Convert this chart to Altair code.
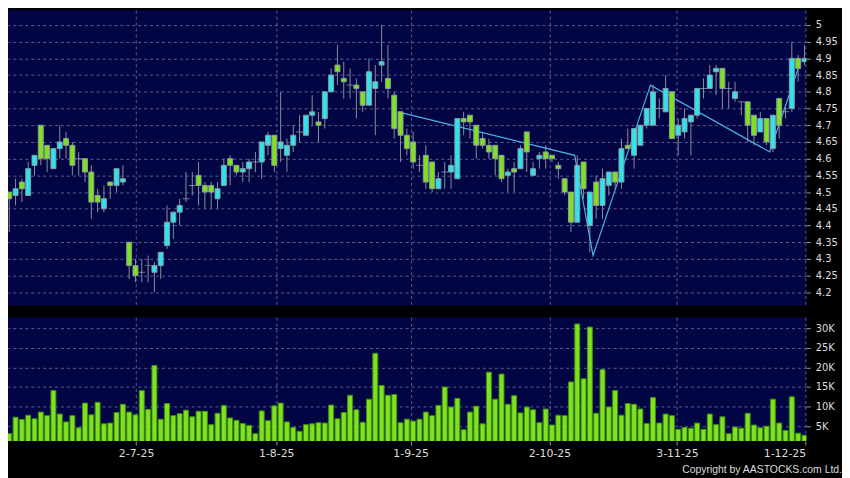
import altair as alt
import pandas as pd

# ---- data (candle index 0..126) ----
opens = [4.50, 4.49, 4.53, 4.49, 4.58, 4.70, 4.64, 4.57, 4.63, 4.66,
         4.64, 4.60, 4.60, 4.56, 4.49, 4.45, 4.53, 4.52, 4.53, 4.35,
         4.28, 4.26, 4.28, 4.26, 4.28, 4.34, 4.41, 4.44, 4.48, 4.52,
         4.55, 4.52, 4.52, 4.48, 4.52, 4.60, 4.58, 4.56, 4.57, 4.59,
         4.59, 4.64, 4.67, 4.63, 4.61, 4.64, 4.68, 4.67, 4.73, 4.71,
         4.72, 4.80, 4.88, 4.84, 4.82, 4.82, 4.80, 4.76, 4.81, 4.88,
         4.84, 4.79, 4.74, 4.67, 4.65, 4.58, 4.61, 4.59, 4.51, 4.56,
         4.56, 4.54, 4.72, 4.73, 4.70, 4.66, 4.64, 4.64, 4.61, 4.55,
         4.57, 4.57, 4.68, 4.55, 4.60, 4.62, 4.61, 4.58, 4.54, 4.50,
         4.41, 4.59, 4.40, 4.53, 4.46, 4.52, 4.56, 4.53, 4.64, 4.61,
         4.64, 4.70, 4.70, 4.75, 4.74, 4.80, 4.67, 4.68, 4.71, 4.73,
         4.81, 4.81, 4.86, 4.87, 4.81, 4.78, 4.77, 4.77, 4.73, 4.68,
         4.72, 4.63, 4.78, 4.74, 4.75, 4.90, 4.89]
highs = [4.50, 4.54, 4.54, 4.59, 4.61, 4.70, 4.64, 4.63, 4.70, 4.68,
         4.65, 4.62, 4.60, 4.58, 4.51, 4.52, 4.53, 4.57, 4.58, 4.35,
         4.30, 4.30, 4.31, 4.29, 4.32, 4.46, 4.44, 4.48, 4.56, 4.56,
         4.59, 4.53, 4.53, 4.53, 4.60, 4.61, 4.58, 4.59, 4.60, 4.62,
         4.65, 4.68, 4.67, 4.80, 4.66, 4.70, 4.73, 4.73, 4.79, 4.74,
         4.80, 4.87, 4.94, 4.89, 4.87, 4.84, 4.80, 4.90, 4.88, 5.00,
         4.94, 4.80, 4.74, 4.69, 4.68, 4.61, 4.64, 4.59, 4.56, 4.59,
         4.61, 4.72, 4.74, 4.73, 4.70, 4.68, 4.66, 4.64, 4.61, 4.57,
         4.59, 4.64, 4.68, 4.59, 4.62, 4.64, 4.61, 4.59, 4.54, 4.50,
         4.61, 4.59, 4.50, 4.55, 4.57, 4.56, 4.56, 4.66, 4.69, 4.69,
         4.70, 4.75, 4.82, 4.78, 4.85, 4.80, 4.72, 4.75, 4.73, 4.81,
         4.84, 4.88, 4.88, 4.87, 4.83, 4.83, 4.77, 4.77, 4.73, 4.74,
         4.72, 4.73, 4.78, 4.76, 4.95, 4.91, 4.94]
lows = [4.38, 4.46, 4.47, 4.49, 4.55, 4.58, 4.56, 4.57, 4.60, 4.60,
        4.55, 4.55, 4.53, 4.42, 4.44, 4.44, 4.48, 4.50, 4.52, 4.24,
        4.23, 4.23, 4.23, 4.20, 4.24, 4.33, 4.36, 4.40, 4.47, 4.49,
        4.46, 4.45, 4.45, 4.45, 4.52, 4.52, 4.55, 4.53, 4.53, 4.56,
        4.54, 4.61, 4.56, 4.59, 4.56, 4.62, 4.65, 4.67, 4.70, 4.65,
        4.69, 4.80, 4.82, 4.78, 4.78, 4.72, 4.74, 4.76, 4.67, 4.83,
        4.78, 4.66, 4.59, 4.61, 4.57, 4.56, 4.51, 4.50, 4.51, 4.51,
        4.51, 4.54, 4.67, 4.66, 4.60, 4.63, 4.60, 4.55, 4.53, 4.50,
        4.50, 4.57, 4.56, 4.55, 4.57, 4.57, 4.59, 4.54, 4.49, 4.38,
        4.41, 4.48, 4.32, 4.42, 4.42, 4.49, 4.51, 4.51, 4.63, 4.57,
        4.64, 4.69, 4.70, 4.72, 4.74, 4.66, 4.61, 4.66, 4.61, 4.72,
        4.78, 4.81, 4.79, 4.75, 4.75, 4.77, 4.73, 4.65, 4.64, 4.68,
        4.64, 4.62, 4.66, 4.72, 4.74, 4.83, 4.88]
closes = [4.48, 4.51, 4.51, 4.57, 4.61, 4.60, 4.60, 4.63, 4.65, 4.64,
          4.58, 4.60, 4.56, 4.47, 4.47, 4.48, 4.52, 4.57, 4.54, 4.28,
          4.25, 4.26, 4.28, 4.28, 4.32, 4.41, 4.44, 4.46, 4.48, 4.52,
          4.52, 4.50, 4.50, 4.51, 4.58, 4.58, 4.56, 4.57, 4.59, 4.59,
          4.65, 4.67, 4.58, 4.65, 4.64, 4.67, 4.68, 4.73, 4.74, 4.70,
          4.80, 4.85, 4.86, 4.83, 4.82, 4.81, 4.76, 4.86, 4.83, 4.89,
          4.81, 4.69, 4.67, 4.63, 4.59, 4.58, 4.53, 4.51, 4.54, 4.56,
          4.58, 4.72, 4.71, 4.71, 4.64, 4.64, 4.62, 4.60, 4.54, 4.56,
          4.56, 4.63, 4.62, 4.57, 4.61, 4.60, 4.60, 4.57, 4.50, 4.41,
          4.58, 4.51, 4.50, 4.46, 4.54, 4.56, 4.53, 4.63, 4.63, 4.69,
          4.70, 4.75, 4.80, 4.75, 4.81, 4.66, 4.70, 4.72, 4.73, 4.81,
          4.81, 4.85, 4.87, 4.81, 4.81, 4.80, 4.77, 4.70, 4.67, 4.72,
          4.65, 4.73, 4.70, 4.74, 4.90, 4.87, 4.90]
volumes_k = [3.1, 7.3, 6.7, 7.8, 6.9, 8.6, 7.7, 14.1, 8.1, 6.1,
             7.7, 4.6, 10.9, 7.9, 11.1, 5.6, 5.8, 8.5, 10.6, 8.6,
             7.9, 14.1, 9.3, 20.5, 6.8, 10.8, 7.7, 8.2, 9.1, 7.4,
             8.8, 8.8, 5.4, 8.3, 10.3, 7.1, 6.5, 5.7, 5.2, 3.1,
             8.9, 6.4, 10.2, 10.9, 6.1, 4.7, 3.7, 5.4, 5.6, 5.9,
             5.8, 10.4, 6.9, 8.5, 12.9, 9.2, 6.0, 11.9, 23.6, 15.4,
             12.9, 13.1, 5.9, 6.8, 6.3, 6.8, 8.6, 7.7, 10.3, 15.0,
             9.9, 12.1, 4.1, 8.6, 10.1, 5.6, 18.8, 11.9, 18.3, 10.6,
             12.8, 8.4, 9.9, 9.2, 5.9, 9.4, 5.3, 7.8, 7.7, 16.3,
             31.1, 17.1, 30.3, 8.3, 19.5, 9.9, 14.1, 7.8, 10.8, 10.6,
             9.4, 5.7, 12.3, 5.8, 8.1, 7.7, 4.2, 4.7, 4.5, 5.8,
             4.2, 8.1, 5.4, 7.4, 3.1, 4.8, 4.5, 8.3, 5.3, 4.6,
             5.0, 11.9, 5.8, 3.9, 12.5, 3.2, 2.7]

tick_idx = [20.1, 42.3, 63.6, 85.6, 105.8, 126.2]
tick_labels = ["2-7-25", "1-8-25", "1-9-25", "2-10-25", "3-11-25", "1-12-25"]
price_ticks = [4.2, 4.25, 4.3, 4.35, 4.4, 4.45, 4.5, 4.55, 4.6, 4.65,
               4.7, 4.75, 4.8, 4.85, 4.9, 4.95, 5.0]
vol_ticks = [5, 10, 15, 20, 25, 30]

zz_idx = [61.6, 89.6, 92.5, 101.6, 120.5, 125.2]
zz_price = [4.74, 4.61, 4.31, 4.82, 4.62, 4.88]

# ---- styling ----
CYAN = "#2fe3ee"
GREEN = "#7fe11f"
NAVY = "#020543"
GRID = "#5e5e90"
TEXT = "#dcdcdc"
WICK = "#8c8c9c"
FONT = "DejaVu Sans"

n = len(opens)
df = pd.DataFrame({
    "idx": list(range(n)),
    "open": opens, "high": highs, "low": lows, "close": closes,
    "vol": volumes_k,
})
df["dir"] = ["up" if c > o else ("down" if c < o else "flat")
             for o, c in zip(opens, closes)]
zz = pd.DataFrame({"idx": zz_idx, "price": zz_price})

xdom = [-0.2, 126.3]
W = 806

label_expr = "''"
for v, l in reversed(list(zip(tick_idx, tick_labels))):
    label_expr = f"abs(datum.value - {v}) < 0.05 ? '{l}' : ({label_expr})"

xsc = alt.Scale(domain=xdom, nice=False, zero=False, padding=0)
xaxis_top = alt.Axis(values=tick_idx, labels=False, ticks=False, domain=False,
                     grid=True, gridDash=[3, 3], gridColor=GRID, title=None)
ysc = alt.Scale(domain=[4.161, 5.044], nice=False, zero=False, padding=0)
yaxis_top = alt.Axis(orient="right", values=price_ticks, format=".2~f",
                     grid=True, gridDash=[3, 3], gridColor=GRID, title=None,
                     domain=False, tickSize=4, tickColor="#9a9a9a", labelPadding=5)

base = alt.Chart(df)
wicks = base.mark_rule(color=WICK, strokeWidth=1, clip=True).encode(
    x=alt.X("idx:Q", scale=xsc, axis=xaxis_top),
    y=alt.Y("low:Q", scale=ysc, axis=yaxis_top),
    y2="high:Q",
)
bodies = base.transform_filter("datum.dir != 'flat'").mark_bar(
    size=5, stroke="#8a9c9c", strokeWidth=1, clip=True
).encode(
    x=alt.X("idx:Q", scale=xsc, axis=xaxis_top),
    y=alt.Y("open:Q", scale=ysc, axis=yaxis_top),
    y2="close:Q",
    color=alt.Color("dir:N", scale=alt.Scale(domain=["up", "down"], range=[CYAN, GREEN]),
                    legend=None),
)
doji = base.transform_filter("datum.dir == 'flat'").mark_tick(
    orient="horizontal", size=7, thickness=1, color="#a8a8b4", clip=True
).encode(
    x=alt.X("idx:Q", scale=xsc, axis=xaxis_top),
    y=alt.Y("close:Q", scale=ysc, axis=yaxis_top),
)
zig = alt.Chart(zz).mark_line(color="#4cb0e8", strokeWidth=1.2, clip=True).encode(
    x=alt.X("idx:Q", scale=xsc, axis=xaxis_top),
    y=alt.Y("price:Q", scale=ysc, axis=yaxis_top),
)
top = alt.layer(wicks, zig, bodies, doji).properties(width=W, height=298)

vbars = base.mark_bar(size=5, color=GREEN, stroke="#3f8f12", strokeWidth=1, clip=True).encode(
    x=alt.X("idx:Q", scale=xsc,
            axis=alt.Axis(values=tick_idx, labelExpr=label_expr, grid=True,
                          gridDash=[3, 3], gridColor=GRID, domain=False, ticks=True,
                          tickSize=4, tickColor="#9a9a9a", labelPadding=3,
                          labelFontSize=11, title=None)),
    y=alt.Y("vol:Q", scale=alt.Scale(domain=[1.2, 32.8], nice=False, zero=False, padding=0),
            axis=alt.Axis(orient="right", values=vol_ticks, labelExpr="datum.value + 'K'",
                          grid=True, gridDash=[3, 3], gridColor=GRID, title=None,
                          domain=False, tickSize=4, tickColor="#9a9a9a", labelPadding=5)),
)
copyright_txt = alt.Chart(alt.Data(values=[{"t": "Copyright by AASTOCKS.com Ltd."}])).mark_text(
    align="right", baseline="middle", color=TEXT, fontSize=10.5, font="Liberation Sans"
).encode(
    x=alt.value(W + 36), y=alt.value(125 + 29), text="t:N"
)
bottom = alt.layer(vbars, copyright_txt).properties(width=W, height=125)

chart = alt.vconcat(top, bottom, spacing=12).resolve_scale(x="independent").properties(
    background="black", padding={"left": 0, "top": 0, "right": 0, "bottom": 0}
).configure_view(
    fill=NAVY, stroke=None
).configure_axis(
    labelColor=TEXT, labelFont=FONT, labelFontSize=10
)

chart.save("out.html", embed_options={"renderer": "svg", "actions": False})
